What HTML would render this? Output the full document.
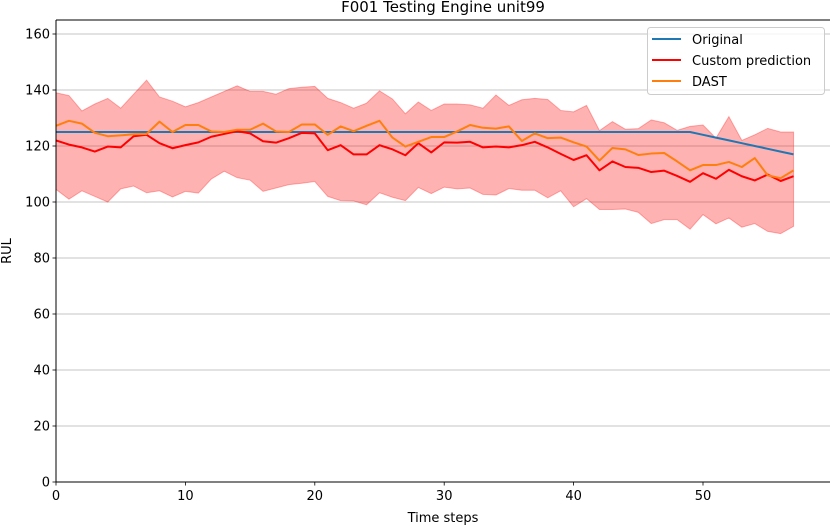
<!DOCTYPE html>
<html><head><meta charset="utf-8"><style>
body{margin:0;background:#fff}
svg text{font-family:"DejaVu Sans","Liberation Sans",sans-serif;fill:#000}
</style></head><body>
<svg id="chart" width="830" height="525" viewBox="0 0 830 525" xmlns="http://www.w3.org/2000/svg">
<rect x="0" y="0" width="830" height="525" fill="#fff"/>
<g id="grid"></g>
<g id="band"></g>
<g id="lines"></g>
<g id="axes"></g>
<text x="443" y="12" text-anchor="middle" font-size="15">F001 Testing Engine unit99</text>
<text x="443" y="522" text-anchor="middle" font-size="13">Time steps</text>
<text x="11" y="251" text-anchor="middle" font-size="13" transform="rotate(-90 11 251)">RUL</text>
<g>
<rect x="647.5" y="27.5" width="177" height="67" rx="3" fill="#fff" fill-opacity="0.8" stroke="#ccc"/>
<g><line x1="652" y1="39" x2="681" y2="39" stroke="#1f77b4" stroke-width="2"/><text x="692" y="44" font-size="13">Original</text></g>
<g><line x1="652" y1="60" x2="681" y2="60" stroke="#ff0000" stroke-width="2"/><text x="692" y="65" font-size="13">Custom prediction</text></g>
<g><line x1="652" y1="81" x2="681" y2="81" stroke="#ff7f0e" stroke-width="2"/><text x="692" y="86" font-size="13">DAST</text></g>
</g>
</svg>
<script>
const xTicks=[0,10,20,30,40,50];
const yTicks=[0,20,40,60,80,100,120,140,160];
const original=[125,125,125,125,125,125,125,125,125,125,125,125,125,125,125,125,125,125,125,125,125,125,125,125,125,125,125,125,125,125,125,125,125,125,125,125,125,125,125,125,125,125,125,125,125,125,125,125,125,125,124,123,122,121,120,119,118,117];
const custom=[122,120.5,119.5,118,119.8,119.5,123.5,124,121,119.2,120.3,121.3,123.3,124.3,125.3,124.5,121.7,121.2,122.8,124.7,124.5,118.5,120.3,117,117,120.3,118.8,116.7,121,117.7,121.3,121.2,121.5,119.5,119.8,119.5,120.3,121.5,119.5,117.2,115,116.7,111.3,114.5,112.5,112.2,110.7,111.2,109.3,107.2,110.3,108.3,111.5,109.2,107.7,109.8,107.5,109.2];
const dast=[127.2,129,128,124.7,123.5,123.8,124.2,124.3,128.7,125,127.5,127.5,125.2,125,125.8,125.8,128,125.2,125,127.7,127.7,124,127,125.3,127.2,129,123,119.8,121.5,123.2,123.2,125.2,127.5,126.5,126.2,127,121.8,124.5,122.8,123,121.3,119.8,114.8,119.3,118.8,116.8,117.3,117.5,114.5,111.3,113.2,113.2,114.3,112.5,115.7,109.5,108.5,111.3];
const upper=[139,138,132.5,135,137,133.5,138.5,143.5,137.5,136,134,135.5,137.5,139.5,141.5,139.5,139.5,138.5,140.5,141,141.3,137,135.5,133.5,135.3,139.7,136.8,131.5,135.7,132.7,135,135,134.7,133.5,138.2,134.5,136.5,137,136.6,132.7,132.2,134.5,125.5,128.7,126,126.2,129.3,128.3,125.6,127,127.5,122.8,130.5,122,124,126.3,125,125];
const lower=[104.5,101,104,102,100,104.7,105.7,103.3,104,101.8,103.8,103.2,108.2,111,108.7,107.8,103.8,105,106.2,106.7,107.3,102,100.5,100.4,99,103.3,101.7,100.5,105.2,103,105.3,104.7,105,102.7,102.5,104.8,104.2,104.2,101.5,104,98.3,101.2,97.3,97.3,97.5,96.3,92.3,93.7,93.7,90.3,95.5,92.2,94.3,91,92.3,89.5,88.7,91.3];

const NS='http://www.w3.org/2000/svg';
const L=56,R=830,T=20,B=482;
const X=v=>L+v*12.94;
const Y=v=>B-v*2.8;
function mk(tag,attrs,parent){const e=document.createElementNS(NS,tag);for(const k in attrs)e.setAttribute(k,attrs[k]);parent.appendChild(e);return e;}
const grid=document.getElementById('grid'),axes=document.getElementById('axes'),band=document.getElementById('band'),lines=document.getElementById('lines');
yTicks.forEach(t=>{
  const g=mk('line',{x1:L,x2:R,y1:Y(t),y2:Y(t),stroke:'#b0b0b0','stroke-width':0.8},grid);
  
  
  const tk=mk('line',{x1:L-3.5,x2:L,y1:Y(t),y2:Y(t),stroke:'#000','stroke-width':0.8},axes);
  
  
  const tx=mk('text',{x:L-6,y:Y(t)+4.5,'text-anchor':'end','font-size':13},axes);
  tx.textContent=t;
  
  
});
xTicks.forEach(t=>{
  const tk=mk('line',{x1:X(t),x2:X(t),y1:B,y2:B+3.5,stroke:'#000','stroke-width':0.8},axes);
  
  
  const tx=mk('text',{x:X(t),y:B+18,'text-anchor':'middle','font-size':13},axes);
  tx.textContent=t;
  
  
});
let d='';
upper.forEach((v,i)=>{d+=(i?'L':'M')+X(i)+','+Y(v);});
for(let i=lower.length-1;i>=0;i--)d+='L'+X(i)+','+Y(lower[i]);
d+='Z';
const bp=mk('path',{d:d,fill:'#ff0000','fill-opacity':0.3,stroke:'#ff0000','stroke-opacity':0.3,'stroke-width':1},band);


function line(arr,color,name){
  const pts=arr.map((v,i)=>X(i)+','+Y(v)).join(' ');
  const p=mk('polyline',{points:pts,fill:'none',stroke:color,'stroke-width':2,'stroke-linejoin':'round'},lines);
  
  
}
line(original,'#1f77b4','original-line');
line(custom,'#ff0000','custom-prediction-line');
line(dast,'#ff7f0e','dast-line');
const fr=mk('path',{d:`M${L},${T}H${R}M${L},${T}V${B}H${R}`,fill:'none',stroke:'#000','stroke-width':1},axes);


</script>
</body></html>
